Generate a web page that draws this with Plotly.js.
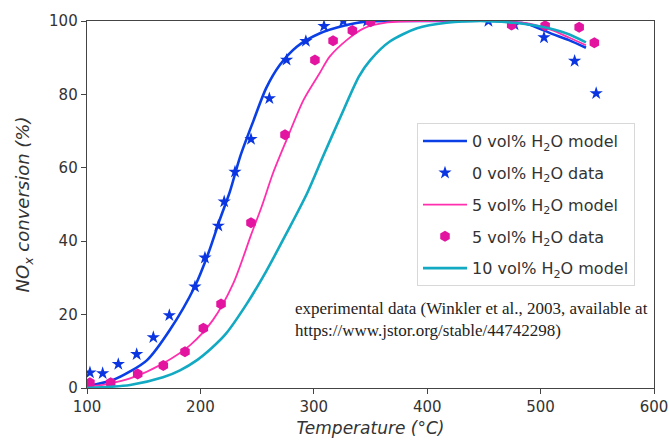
<!DOCTYPE html>
<html>
<head>
<meta charset="utf-8">
<script src="https://cdn.plot.ly/plotly-3.0.1.min.js"></script>
<style>html,body{margin:0;padding:0;background:#fff;}#chart{width:669px;height:443px;}</style>
</head>
<body>
<div id="chart"></div>
<script>
// Model curves
const blueModelT = [100,123,138,153,173,195,207,217,226,235,247,258,270,285,305,329,345,380,420,460,488,510,525,540];
const blueModelV = [0.5,2.2,4.5,7.6,15.8,27.6,36.7,45.8,53.5,63,73,81.7,88,93,96.6,98.9,99.8,100,100,100,99.2,96.5,94.8,92.7];
const pinkModelT = [100,120,138,167,191,211,229,245,254,264,276,291,305,314,329,344,365,400,460,490,510,525,540];
const pinkModelV = [0.3,1.2,2.6,6.7,11.7,18.5,28.5,42,49.4,58.5,67.6,78.5,85.7,90.3,94.8,98,99.6,100,100,99.3,97.5,95.5,93.4];
const cyanModelT = [100,138,167,182,197,210,222,241,258,276,294,308,323,340,350,367,391,417,447,476,500,523,540];
const cyanModelV = [0,0.8,2.9,4.8,7.6,10.9,14.6,23,31.8,42.2,53,63,73.5,85,89.4,94.4,98,99.5,100,99.5,98.5,96.6,94.2];
// Experimental data
const blueDataT = [102.6,113.8,127.6,143.8,158.5,172.6,195.2,204,215.8,221,230.5,244.6,260.8,276,293,309,326,347,454,477,503,530,549];
const blueDataV = [4.2,4.0,6.5,9.2,13.8,19.8,27.6,35.5,44.2,50.8,58.9,67.8,78.9,89.4,94.5,98.6,100,100,100,99,95.5,89.1,80.3];
const pinkDataT = [102.6,120.9,144.7,167.3,186.4,202.6,218.2,244.6,274.6,301,317,334,350,474.5,504,534,547.4];
const pinkDataV = [1.4,1.4,3.8,6.1,9.9,16.3,22.9,45,69,89.4,94.6,97.4,99.8,98.9,98.7,98.3,94.1];
const names = ['0 vol% H<sub>2</sub>O model','0 vol% H<sub>2</sub>O data','5 vol% H<sub>2</sub>O model','5 vol% H<sub>2</sub>O data','10 vol% H<sub>2</sub>O model'];
const xTicks = [100,200,300,400,500,600];
const yTicks = [0,20,40,60,80,100];

const blue = '#0b3fe6', pink = '#ff2fae', pinkDot = '#e3149f', cyan = '#12a9c2';
const traces = [
  {x: blueModelT, y: blueModelV, mode:'lines', name:names[0], line:{color:blue, width:2.6, shape:'spline', smoothing:0.8}, legendgroup:'a'},
  {x: blueDataT, y: blueDataV, mode:'markers', name:names[1], marker:{symbol:'star', color:'#0a35e0', size:10}, legendgroup:'b'},
  {x: pinkModelT, y: pinkModelV, mode:'lines', name:names[2], line:{color:pink, width:1.8, shape:'spline', smoothing:0.8}, legendgroup:'c'},
  {x: pinkDataT, y: pinkDataV, mode:'markers', name:names[3], marker:{symbol:'hexagon', color:pinkDot, size:11}, legendgroup:'d'},
  {x: cyanModelT, y: cyanModelV, mode:'lines', name:names[4], line:{color:cyan, width:2.6, shape:'spline', smoothing:0.8}, legendgroup:'e'}
];
const axFont = {family:'DejaVu Sans', size:15, color:'#333'};
const layout = {
  width:669, height:443,
  margin:{l:87, r:15, t:21, b:55},
  paper_bgcolor:'#fff', plot_bgcolor:'#fff',
  showlegend:true,
  legend:{x:0.582, y:0.722, xanchor:'left', yanchor:'top', bgcolor:'rgba(255,255,255,0.9)', bordercolor:'#d8d8d8', borderwidth:1,
          font:{family:'DejaVu Sans', size:16, color:'#333'}, tracegroupgap:8, traceorder:'grouped', itemwidth:44},
  xaxis:{range:[100,600], tickvals:xTicks, ticktext:xTicks.map(String), showgrid:false, zeroline:false,
         showline:true, mirror:true, linecolor:'#444', linewidth:1.3, ticks:'outside', ticklen:5, tickcolor:'#444',
         tickfont:axFont, title:{text:'<i>Temperature (°C)</i>', font:{family:'DejaVu Sans', size:17, color:'#333'}, standoff:6}},
  yaxis:{range:[0,100], tickvals:yTicks, ticktext:yTicks.map(String), showgrid:false, zeroline:false,
         showline:true, mirror:true, linecolor:'#444', linewidth:1.3, ticks:'outside', ticklen:5, tickcolor:'#444',
         tickfont:axFont, title:{text:'<i>NO<sub>x</sub> conversion (%)</i>', font:{family:'DejaVu Sans', size:18, color:'#333'}, standoff:14}},
  annotations:[{xref:'paper', yref:'paper', x:0.363, y:0.188, xanchor:'left', yanchor:'middle', align:'left', showarrow:false,
    text:'experimental data (Winkler et al., 2003, available at<br>https://www.jstor.org/stable/44742298)',
    font:{family:'Liberation Serif', size:17, color:'#222'}}]
};
Plotly.newPlot('chart', traces, layout, {displayModeBar:false, staticPlot:true});
</script>
</body>
</html>
